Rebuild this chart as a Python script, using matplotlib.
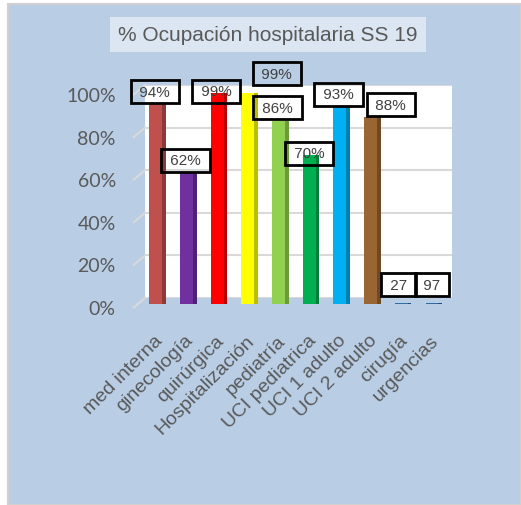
import matplotlib.pyplot as plt
import matplotlib.transforms as mtransforms
from matplotlib.patches import Rectangle
import numpy as np

categories = ["med interna", "ginecología", "quirúrgica", "Hospitalización",
              "pediatría", "UCI pediatrica", "UCI 1 adulto", "UCI 2 adulto",
              "cirugía", "urgencias"]
values = [0.94, 0.62, 0.99, 0.99, 0.86, 0.70, 0.93, 0.88, 0.004, 0.004]
value_labels = ["94%", "62%", "99%", "99%", "86%", "70%", "93%", "88%", "27", "97"]
yticks = [0, 0.2, 0.4, 0.6, 0.8, 1.0]
ytick_labels = ["0%", "20%", "40%", "60%", "80%", "100%"]

front_colors = ["#C0504D", "#7030A0", "#FF0000", "#FFFF00", "#92D050",
                "#00B050", "#00B0F0", "#996633", "#2E6DA4", "#2E6DA4"]
side_colors = ["#8C3A38", "#4E2272", "#B80000", "#BDBD00", "#6C9B3A",
               "#007D39", "#0080AE", "#6E4924", "#1F4E79", "#1F4E79"]
# label box offsets from bar top, in pixels
label_dx = [-1, -1, -1, 29, -1, 0, -1.5, 20, -3, 0]
label_dy = [6, 5.5, -4, 13.5, 7, -4.5, 5.5, 6, 12.5, 12.5]

W, H = 521, 506
fig = plt.figure(figsize=(W / 100, H / 100), dpi=100, facecolor="white")
fig.patches.append(Rectangle((8 / W, 0), 1 - 8 / W, 1 - 5 / H,
                             transform=fig.transFigure, facecolor="#B9CDE5",
                             edgecolor="#D0D0D0", lw=1.5, zorder=-10))

# title box
fig.text(268 / W, 1 - 35.5 / H, "% Ocupación hospitalaria SS 19",
         ha="center", va="center", fontsize=15, color="#595959",
         family="Liberation Sans",
         bbox=dict(boxstyle="square,pad=0.4", fc="#DCE6F2", ec="none"))

ax = fig.add_axes([145 / W, 1 - 299 / H, 307 / W, 213 / H])
ax.set_facecolor("white")
x = np.arange(len(categories))
ax.set_xlim(-0.35, 9.65)
ax.set_ylim(0, 1)

for y in yticks:
    ax.axhline(y, color="#D9D9D9", lw=1.5, zorder=1)
    ax.plot([-0.35, -0.72], [y, y - 0.045], color="#D9D9D9", lw=1.5,
            clip_on=False, zorder=1)

# bars sit slightly in front of the back wall (3D look)
front_w = 0.42
side_w = 0.12
shift = mtransforms.ScaledTranslation(0, -6 / 100, fig.dpi_scale_trans)
fronts = ax.bar(x, values, width=front_w, color=front_colors, zorder=3,
                clip_on=False)
sides = ax.bar(x + front_w / 2 + side_w / 2, values, width=side_w,
               color=side_colors, zorder=2, clip_on=False)
for p in list(fronts) + list(sides):
    p.set_transform(ax.transData + shift)

for i in range(len(categories)):
    ax.annotate(" " + value_labels[i] + " ", (x[i], values[i]),
                xytext=(label_dx[i], label_dy[i]), textcoords="offset pixels",
                ha="center", va="center", fontsize=11, color="#404040",
                family="Liberation Sans", zorder=5, annotation_clip=False,
                bbox=dict(boxstyle="square,pad=0.3", fc="none", ec="black", lw=2))

for s in ax.spines.values():
    s.set_visible(False)

ax.set_yticks(yticks)
ax.set_yticklabels(ytick_labels, family="Lato", fontsize=14, color="#595959")
ax.tick_params(axis="y", length=0, pad=21)
off_y = mtransforms.ScaledTranslation(0, -9 / 100, fig.dpi_scale_trans)
for lab in ax.get_yticklabels():
    lab.set_transform(lab.get_transform() + off_y)

ax.set_xticks(x)
ax.set_xticklabels(categories, rotation=45, ha="right", va="top",
                   rotation_mode="anchor", family="Liberation Sans",
                   fontsize=14, color="#595959")
ax.tick_params(axis="x", length=0, pad=24)
off_x = mtransforms.ScaledTranslation(-2 / 100, 0, fig.dpi_scale_trans)
for lab in ax.get_xticklabels():
    lab.set_transform(lab.get_transform() + off_x)

plt.savefig("out.png", dpi=100)
